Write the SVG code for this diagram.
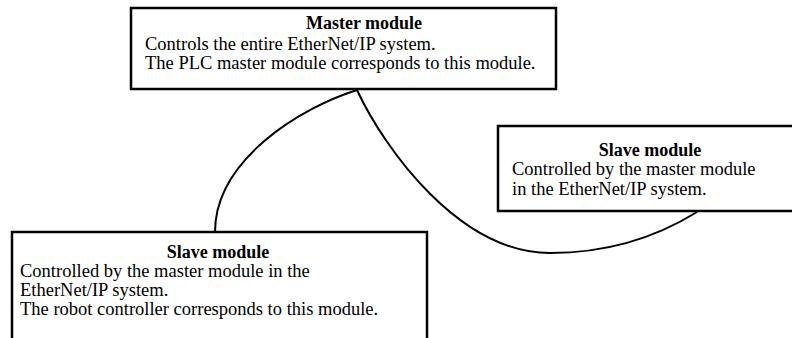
<svg xmlns="http://www.w3.org/2000/svg" width="792" height="338" viewBox="0 0 792 338">
<style>
.box{fill:#fff;stroke:#000;stroke-width:2.5}
.t{font-family:"Liberation Serif","Times New Roman",serif;font-size:18.5px;fill:#000}
.h{font-weight:bold;text-anchor:middle;font-size:18px}
.c{fill:none;stroke:#000;stroke-width:2}
</style>
<rect width="792" height="338" fill="#fff"/>
<g id="connectors">
<path class="c" d="M357,90 C300,108 215,160 215,232"/>
<path class="c" d="M357,90 C385,150 460,253 550,253 C610,253 660,235 697,212"/>
</g>
<g id="master">
<rect class="box" x="131" y="8" width="425" height="81"/>
<text class="t h" x="364" y="29">Master module</text>
<text class="t" x="145" y="49.5">Controls the entire EtherNet/IP system.</text>
<text class="t" x="145" y="69">The PLC master module corresponds to this module.</text>
</g>
<g id="slave-right">
<rect class="box" x="498" y="126" width="300" height="85"/>
<text class="t h" x="650" y="155.5">Slave module</text>
<text class="t" x="512" y="175">Controlled by the master module</text>
<text class="t" x="512" y="194.5">in the EtherNet/IP system.</text>
</g>
<g id="slave-left">
<rect class="box" x="12" y="232" width="415" height="120"/>
<text class="t h" x="218" y="257.5">Slave module</text>
<text class="t" x="20" y="277">Controlled by the master module in the</text>
<text class="t" x="20" y="296">EtherNet/IP system.</text>
<text class="t" x="20" y="315">The robot controller corresponds to this module.</text>
</g>
</svg>
